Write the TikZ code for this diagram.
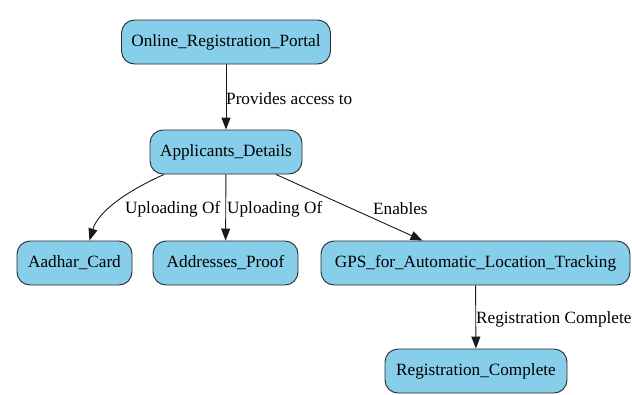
\documentclass[tikz,border=0pt]{standalone}
\usepackage{fontspec}
\setmainfont{Liberation Serif}
\newfontfamily\gvfont{Liberation Serif}
\usetikzlibrary{arrows.meta}
\definecolor{boxfill}{HTML}{87CEEB}
\definecolor{boxline}{HTML}{2A2A2A}
\tikzset{
  gnode/.style={draw=boxline, line width=0.9pt, fill=boxfill, rounded corners=13pt,
    minimum height=44pt, inner sep=0pt, font=\gvfont\fontsize{17.2}{20}\selectfont},
  edge/.style={draw=black!90, line width=0.9pt, -{Triangle[length=12pt,width=9pt]}},
  elabel/.style={font=\gvfont\fontsize{17.2}{20}\selectfont, inner sep=0pt, anchor=west}
}
\begin{document}
\begin{tikzpicture}[x=1pt,y=-1pt]
\useasboundingbox (0,0) rectangle (632,394);
\node[gnode, minimum width=209pt] (portal) at (226,42) {Online\_Registration\_Portal};
\node[gnode, minimum width=152pt] (app) at (226,152) {Applicants\_Details};
\node[gnode, minimum width=115pt] (aad) at (74.5,263) {Aadhar\_Card};
\node[gnode, minimum width=145pt] (addr) at (225.5,263) {Addresses\_Proof};
\node[gnode, minimum width=309pt] (gps) at (475.5,263) {GPS\_for\_Automatic\_Location\_Tracking};
\node[gnode, minimum width=182pt] (reg) at (476,371) {Registration\_Complete};

\draw[edge] (portal) -- (app);
\draw[edge] ([xshift=-62pt]app.south) .. controls (125,192) and (98,212) .. ([xshift=15pt]aad.north);
\draw[edge] (app) -- (addr);
\draw[edge] ([xshift=50pt]app.south) -- ([xshift=-53pt]gps.north);
\draw[edge] (gps) -- (reg);

\node[elabel] (l1) at (226,99) {Provides access to};
\node[elabel] (l2) at (125,209) {Uploading Of};
\node[elabel] (l3) at (227,209) {Uploading Of};
\node[elabel] (l4) at (373,209) {Enables};
\node[elabel] (l5) at (476,319) {Registration Complete};
\end{tikzpicture}
\end{document}
